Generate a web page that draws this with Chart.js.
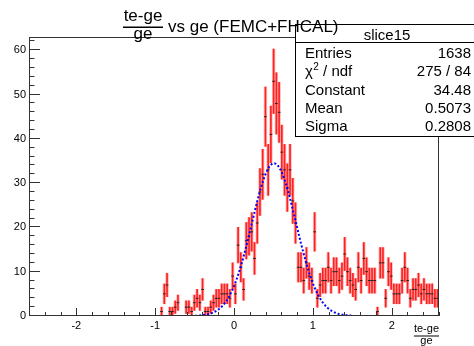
<!DOCTYPE html>
<html><head><meta charset="utf-8">
<script src="https://cdn.jsdelivr.net/npm/chart.js@4/dist/chart.umd.min.js"></script>
<style>html,body{margin:0;padding:0;background:#fff;}#wrap{width:474px;height:346px;position:relative;overflow:hidden}</style>
</head><body><div id="wrap"><canvas id="c" width="474" height="346"></canvas></div>
<script>
// ---- data ----
const binLow = -1.00533;     // lower edge of first listed bin
const binWidth = 5.2 / 150;  // histogram bin width (150 bins over -2.6..2.6)
const counts = [
  0,0,1,5,7,1,1,2,3,0,
  0,2,2,1,3,4,3,6,1,1,
  2,3,4,4,5,5,5,4,9,5,
  16,11,6,17,18,19,13,21,28,32,
  45,33,41,53,48,46,37,33,29,33,
  26,21,11,11,8,12,9,8,19,4,
  7,8,8,11,8,10,10,8,9,14,
  10,8,7,6,11,8,13,10,8,8,
  8,1,12,12,4,10,9,5,5,5,
  8,11,8,4,6,6,7,5,6,5,
  5,5,4,4
];
const fitConstant = 34.48, fitMean = 0.5073, fitSigma = 0.2808;
const fitRange = [-1.0, 1.5];
const xTickValues = [-2, -1, 0, 1, 2];
const yTickValues = [0, 10, 20, 30, 40, 50, 60];
const statsTitle = 'slice15';
const statsRows = [['Entries','1638'],['χ2 / ndf','275 / 84'],['Constant','34.48'],['Mean','0.5073'],['Sigma','0.2808']];

// ---- derived tables ----
const filled = [];
counts.forEach((n, i) => { if (n > 0) filled.push({ x: binLow + binWidth * (i + 0.5), n }); });
const errBars = filled.map(p => ({ x: p.x, y: [p.n - Math.sqrt(p.n), p.n + Math.sqrt(p.n)] }));
const markers = filled.map(p => ({ x: p.x, y: p.n }));
const fitPts = [];
for (let k = 0; k <= Math.round((fitRange[1] - fitRange[0]) / 0.01); k++) {
  const x = fitRange[0] + k * 0.01;
  fitPts.push({ x, y: fitConstant * Math.exp(-0.5 * Math.pow((x - fitMean) / fitSigma, 2)) });
}

const FONT = '"Liberation Sans", Arial, Helvetica, sans-serif';

const rootPlugin = {
  id: 'rootStyle',
  afterDraw(chart) {
    const c = chart.ctx, a = chart.chartArea;
    const xs = chart.scales.x, ys = chart.scales.y;
    c.save();
    c.strokeStyle = '#333'; c.lineWidth = 1;
    c.strokeRect(Math.round(a.left) + 0.5, Math.round(a.top) + 0.5, Math.round(a.right - a.left) - 1, Math.round(a.bottom - a.top) - 1);
    c.beginPath();
    for (let v = 0; v <= 62; v += 2) {
      const y = Math.round(ys.getPixelForValue(v)) - 0.5;
      const len = (v % 10 === 0) ? 11 : 5.5;
      c.moveTo(a.left, y); c.lineTo(a.left + len, y);
    }
    for (let k = -13; k <= 13; k++) {
      const x = Math.round(xs.getPixelForValue(k * 0.2)) + 0.5;
      const len = (k % 5 === 0) ? 8 : 4;
      c.moveTo(x, a.bottom); c.lineTo(x, a.bottom - len);
    }
    c.stroke();

    // stats box
    c.fillStyle = '#fff';
    c.fillRect(295.5, 24.5, 200, 112);
    c.strokeStyle = '#000';
    c.strokeRect(295.5, 24.5, 200, 112);
    c.beginPath(); c.moveTo(295.5, 42.5); c.lineTo(474, 42.5); c.stroke();
    c.fillStyle = '#000';
    c.font = '15px ' + FONT;
    c.textBaseline = 'alphabetic';
    c.textAlign = 'center';
    c.fillText(statsTitle, 387, 40);
    statsRows.forEach((r, i) => {
      const by = 57.7 + 18.4 * i;
      c.textAlign = 'left';
      if (r[0].startsWith('χ2')) {
        c.fillText('χ', 305, by);
        const w = c.measureText('χ').width;
        c.font = '10px ' + FONT;
        c.fillText('2', 305 + w + 0.5, by - 6);
        const w2 = c.measureText('2').width;
        c.font = '15px ' + FONT;
        c.fillText(' / ndf', 305 + w + w2 + 0.5, by);
      } else {
        c.fillText(r[0], 305, by);
      }
      c.textAlign = 'right';
      c.fillText(r[1], 471, by);
    });

    // title
    c.font = '17px ' + FONT;
    c.textAlign = 'center';
    c.fillText('te-ge', 143, 20.5);
    c.fillText('ge', 143, 39);
    c.fillRect(123, 26.5, 40, 1.5);
    c.textAlign = 'left';
    c.fillText('vs ge (FEMC+FHCAL)', 168, 31.5);

    // x axis title
    c.font = '11px ' + FONT;
    c.textAlign = 'right';
    c.fillText('te-ge', 439, 332);
    const wn = c.measureText('te-ge').width;
    c.fillRect(439 - wn, 335.5, wn, 1);
    c.textAlign = 'center';
    c.fillText('ge', 439 - wn / 2, 344);
    c.restore();
  }
};

new Chart(document.getElementById('c'), {
  type: 'bar',
  data: {
    datasets: [
      { type: 'bar', data: errBars, backgroundColor: 'rgba(255,60,60,0.35)', barPercentage: 1, categoryPercentage: 1, grouped: false, order: 3 },
      { type: 'bar', data: errBars, backgroundColor: '#ff2020', barThickness: 1, grouped: false, order: 2 },
      { type: 'scatter', data: markers, pointStyle: 'line', radius: 1.4, borderColor: '#222', borderWidth: 1, order: 1 },
      { type: 'line', data: fitPts, borderColor: '#0000ff', borderWidth: 2, borderDash: [2, 2], pointRadius: 0, fill: false, tension: 0, order: 0 }
    ]
  },
  options: {
    responsive: false, animation: false, devicePixelRatio: 1,
    layout: { padding: { top: 37, right: 35, left: 0, bottom: 0 } },
    plugins: { legend: { display: false }, tooltip: { enabled: false }, title: { display: false } },
    scales: {
      x: {
        type: 'linear', min: -2.6, max: 2.6, offset: false,
        grid: { display: false, drawTicks: false }, border: { display: false },
        afterBuildTicks: s => { s.ticks = xTickValues.map(v => ({ value: v })); },
        afterFit: s => { s.height = 30; },
        ticks: { padding: 3, font: { family: FONT, size: 11 }, color: '#000', maxRotation: 0, autoSkip: false, callback: v => String(v) }
      },
      y: {
        type: 'linear', min: 0, max: 63,
        grid: { display: false, drawTicks: false }, border: { display: false },
        afterBuildTicks: s => { s.ticks = yTickValues.map(v => ({ value: v })); },
        afterFit: s => { s.width = 29; },
        ticks: { padding: 3, font: { family: FONT, size: 11 }, color: '#000', autoSkip: false, callback: v => String(v) }
      }
    }
  },
  plugins: [rootPlugin]
});
</script></body></html>
